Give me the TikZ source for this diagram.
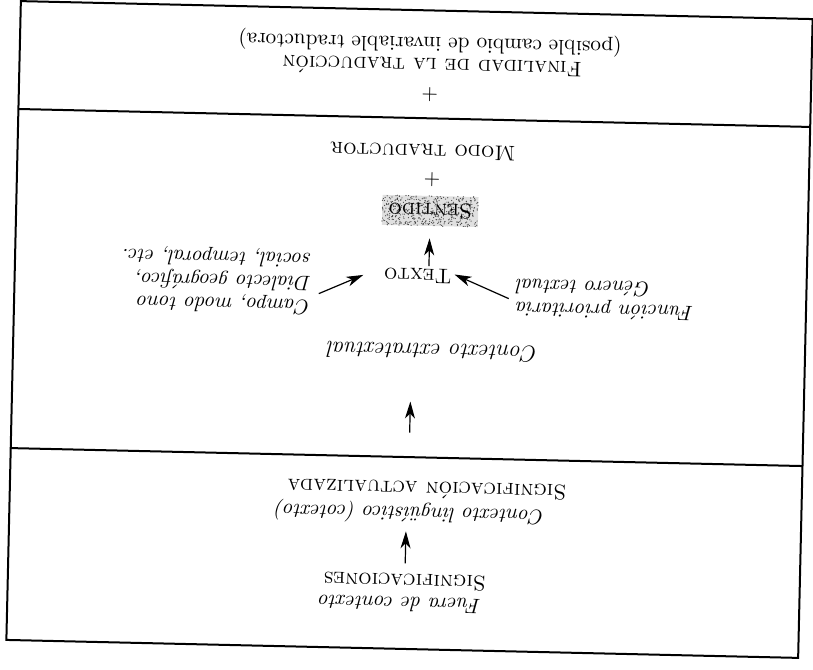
\documentclass[tikz,border=0pt]{standalone}
\usetikzlibrary{arrows.meta,calc}
\begin{document}
\begin{tikzpicture}[x=0.5pt,y=0.5pt,
  frame/.style={line width=1pt},
  arr/.style={-{Stealth[length=8.5pt,width=5pt,inset=2.5pt]}, line width=0.6pt},
  txt/.style={rotate=180, inner sep=1pt, font=\fontsize{10.6}{12}\selectfont},
  itx/.style={rotate=180, inner sep=1pt, font=\fontsize{10.5}{11.6}\selectfont\itshape},
  shadebox/.style={minimum width=48pt, minimum height=15pt}
]
\useasboundingbox (0,0) rectangle (813,-669);
\pgfmathsetseed{7}
\begin{scope}[shift={(409.5,-329.5)}, rotate=-1.3, transform shape]
  % frame and dividers
  \draw[frame] (-396,-319.5) rectangle (396,319.5);
  \coordinate (d1l) at (-396,211.6); \coordinate (d1r) at (396,211.6);
  \coordinate (d2l) at (-396,-127.6); \coordinate (d2r) at (396,-127.6);
  \draw[frame] (d1l) -- (d1r);
  \draw[frame] (d2l) -- (d2r);
  % top section
  \node[txt] (pos) at (14,287) {(posible cambio de invariable traductora)};
  \node[txt] (fin) at (16.6,263) {\textsc{Finalidad de la traducción}};
  \node[txt] (plus1) at (15,235) {+};
  % middle section
  \node[txt] (modo) at (9.5,178) {\textsc{Modo traductor}};
  \node[txt] (plus2) at (19,150) {+};
  % dithered screen tone behind "Sentido"
  \fill[black!12] (-30,104) rectangle (66,134);
  \foreach \i in {1,...,480} {
    \fill[black!75] ({-30+96*rnd},{104+30*rnd}) circle (0.6);
  }
  \node[txt, shadebox] (sentido) at (18,119) {\textsc{Sentido}};
  \node[txt] (texto) at (7,54) {\textsc{Texto}};
  \node[itx, align=left] (campo) at (-194,45) {Campo, modo tono\\Dialecto geográfico,\\social, temporal, etc.};
  \node[itx, align=right] (funcion) at (195,34) {Función prioritaria\\Género textual};
  \node[itx, font=\fontsize{11.6}{13}\selectfont\itshape] (extra) at (24,-22) {Contexto extratextual};
  \coordinate (a3t) at (2.5,-103);
  \coordinate (a3h) at (2.5,-72);
  % bottom section
  \node[txt] (sigact) at (21,-160) {\textsc{Significación actualizada}};
  \node[itx] (ling) at (4.6,-183) {Contexto lingüístico (cotexto)};
  \node[txt] (sigs) at (1,-252) {\textsc{Significaciones}};
  \node[itx] (fuera) at (-3.3,-275) {Fuera de contexto};
  % arrows
  \draw[arr, shorten <=4pt, shorten >=3pt] (sigs.south) -- (sigs.south |- ling.north);
  \draw[arr] (a3t) -- (a3h);
  \draw[arr, shorten >=6pt] (sentido.north |- texto.south) -- (sentido.north);
  \draw[arr, shorten <=3pt, shorten >=10pt] (campo.172) -- (texto.-12);
  \draw[arr, shorten <=3pt, shorten >=10pt] (funcion.2) -- (texto.208);
\end{scope}
\end{tikzpicture}
\end{document}
